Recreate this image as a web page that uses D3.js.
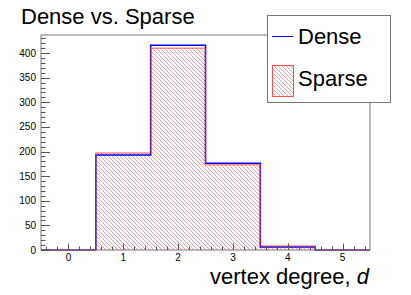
<!DOCTYPE html>
<html>
<head>
<meta charset="utf-8">
<script src="https://cdn.jsdelivr.net/npm/d3@7"></script>
<style>
  body { margin: 0; background: #fff; }
  text { font-family: "Liberation Sans", Arial, sans-serif; }
</style>
</head>
<body>
<div id="chart"></div>
<script>
//Data
var bins = [0, 1, 2, 3, 4, 5];
var dense = [0, 193, 416, 176, 6, 0];
var sparse = [0, 197, 410, 173, 8, 0];
var yTicks = [0, 50, 100, 150, 200, 250, 300, 350, 400];

var width = 411, height = 295;
var frame = {left: 41, right: 370, top: 35, bottom: 250};

var x = d3.scaleLinear().domain([-0.5, 5.5]).range([frame.left, frame.right]);
var y = d3.scaleLinear().domain([0, d3.max(dense) * 1.05]).range([frame.bottom, frame.top]);

var svg = d3.select("#chart").append("svg")
    .attr("width", width)
    .attr("height", height);

//Hatch pattern for sparse
var defs = svg.append("defs");
var pat = defs.append("pattern")
    .attr("id", "hatch")
    .attr("patternUnits", "userSpaceOnUse")
    .attr("width", 4)
    .attr("height", 4);
pat.append("path")
    .attr("d", "M-1,-1 L5,5 M-1,3 L1,5 M3,-1 L5,1")
    .attr("stroke", "#ff5a5a")
    .attr("stroke-width", 1)
    .attr("stroke-opacity", 0.6);

//Step path from bin values
function stepPath(values) {
    var pts = [[x(-0.5), y(0)]];
    values.forEach(function(v, i) {
        pts.push([x(bins[i] - 0.5), y(v)]);
        pts.push([x(bins[i] + 0.5), y(v)]);
    });
    pts.push([x(5.5), y(0)]);
    return d3.line()(pts);
}

//Sparse fill
svg.append("path")
    .attr("d", stepPath(sparse))
    .attr("fill", "url(#hatch)")
    .attr("stroke", "none");

//Dense outline
svg.append("path")
    .attr("d", stepPath(dense))
    .attr("fill", "none")
    .attr("stroke", "#0000ff")
    .attr("stroke-width", 1.5);

//Sparse outline
svg.append("path")
    .attr("d", stepPath(sparse))
    .attr("fill", "none")
    .attr("stroke", "#ff3030")
    .attr("stroke-opacity", 0.55)
    .attr("stroke-width", 1.5);

//Frame
svg.append("rect")
    .attr("x", frame.left)
    .attr("y", frame.top)
    .attr("width", frame.right - frame.left)
    .attr("height", frame.bottom - frame.top)
    .attr("fill", "none")
    .attr("stroke", "#777")
    .attr("stroke-width", 1);

//Y axis ticks (inward)
var yMinor = d3.range(0, 440, 10);
svg.selectAll("line.ymin").data(yMinor).enter().append("line")
    .attr("class", "ymin")
    .attr("x1", frame.left).attr("x2", function(d) { return frame.left + (d % 50 === 0 ? 9 : 4.5); })
    .attr("y1", function(d) { return Math.round(y(d)) + 0.5; })
    .attr("y2", function(d) { return Math.round(y(d)) + 0.5; })
    .attr("stroke", "#555").attr("stroke-width", 1);
svg.selectAll("text.ylab").data(yTicks).enter().append("text")
    .attr("class", "ylab")
    .attr("x", 36)
    .attr("y", function(d) { return y(d) + 3.5; })
    .attr("text-anchor", "end")
    .attr("font-size", 10)
    .text(function(d) { return d; });

//X axis ticks (inward)
var xMinor = d3.range(-0.4, 5.5, 0.2).map(function(d) { return Math.round(d * 10) / 10; });
svg.selectAll("line.xmin").data(xMinor).enter().append("line")
    .attr("class", "xmin")
    .attr("x1", function(d) { return Math.round(x(d)) + 0.5; })
    .attr("x2", function(d) { return Math.round(x(d)) + 0.5; })
    .attr("y1", frame.bottom)
    .attr("y2", function(d) { return frame.bottom - (Number.isInteger(d) ? 6.5 : 3.5); })
    .attr("stroke", "#555").attr("stroke-width", 1);
svg.selectAll("text.xlab").data(bins).enter().append("text")
    .attr("class", "xlab")
    .attr("x", function(d) { return x(d); })
    .attr("y", 261)
    .attr("text-anchor", "middle")
    .attr("font-size", 10)
    .text(function(d) { return d; });

//Axis title
var xt = svg.append("text")
    .attr("x", 369)
    .attr("y", 284)
    .attr("text-anchor", "end")
    .attr("font-size", 22);
xt.append("tspan").text("vertex degree, ");
xt.append("tspan").attr("font-style", "italic").text("d");

//Title
svg.append("text")
    .attr("x", 21)
    .attr("y", 24)
    .attr("font-size", 22)
    .text("Dense vs. Sparse");

//Legend
var lg = svg.append("g");
lg.append("rect")
    .attr("x", 267.5).attr("y", 15.5)
    .attr("width", 123).attr("height", 87)
    .attr("fill", "#fff")
    .attr("stroke", "#777");
lg.append("line")
    .attr("x1", 272).attr("x2", 293)
    .attr("y1", 36.5).attr("y2", 36.5)
    .attr("stroke", "#0000ff").attr("stroke-width", 1);
lg.append("text")
    .attr("x", 298).attr("y", 44)
    .attr("font-size", 22)
    .text("Dense");
lg.append("rect")
    .attr("x", 272.5).attr("y", 65.5)
    .attr("width", 21).attr("height", 31)
    .attr("fill", "url(#hatch)")
    .attr("stroke", "#ff5050");
lg.append("text")
    .attr("x", 298).attr("y", 86)
    .attr("font-size", 22)
    .text("Sparse");
</script>
</body>
</html>
